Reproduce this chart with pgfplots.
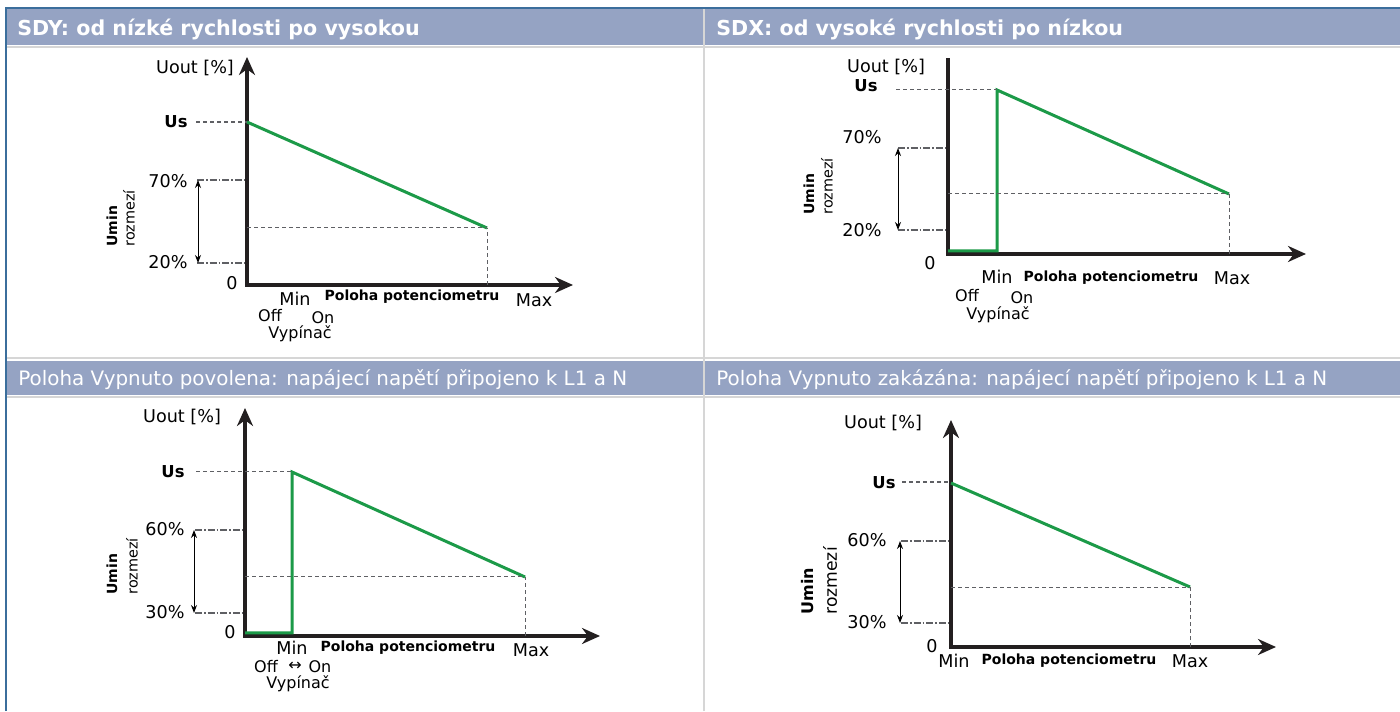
\documentclass[border=0pt]{standalone}
\usepackage{fontspec}
\setmainfont{DejaVu Sans}
\usepackage{pgfplots}
\pgfplotsset{compat=1.18}
\usetikzlibrary{arrows.meta}
\definecolor{hdr}{HTML}{95A3C3}
\definecolor{topblue}{HTML}{3B6E9C}
\definecolor{sep}{HTML}{D6D6D6}
\definecolor{grn}{HTML}{1C9A48}
\definecolor{axblack}{HTML}{231F20}
\definecolor{guide}{HTML}{5F6064}
\newcommand\hdrb{\fontsize{10.3}{12}\selectfont\bfseries}
\newcommand\hdrr{\fontsize{9.95}{12}\selectfont}
\newcommand\lbl{\fontsize{8.8}{10}\selectfont}
\newcommand\sml{\fontsize{8}{9}\selectfont}
\newcommand\tny{\fontsize{7}{8}\selectfont}
\newcommand\rzm{\fontsize{7.2}{8}\selectfont}
\newcommand\usf{\fontsize{8.2}{9}\selectfont\bfseries}
\pgfplotsset{
  panel/.style={scale only axis, anchor=south west, clip=false,
    axis lines=left, xtick=\empty, ytick=\empty,
    axis line style={line width=2pt, draw=axblack, line cap=rect},
    x axis line style={-{Stealth[length=9pt,width=8pt]}},
    y axis line style={-{Stealth[length=9pt,width=8pt]}},
    every axis plot/.append style={no markers, forget plot},
    nodes={inner sep=0pt}},
  grline/.style={draw=grn, line width=1.5pt, line join=miter},
  usdot/.style={draw=guide, line width=1.4pt, dash pattern=on 2pt off 1.5pt},
  thindash/.style={draw=guide, line width=0.5pt, dash pattern=on 2pt off 1.5pt},
  dashdot/.style={draw=guide, line width=0.75pt, dash pattern=on 3.5pt off 1pt on 0.8pt off 1pt},
  dblarrow/.style={draw=black, line width=0.5pt, {Stealth[length=4pt,width=3pt]}-{Stealth[length=4pt,width=3pt]}},
}
\begin{document}
\begin{tikzpicture}[x=0.5pt,y=0.5pt]
\path[use as bounding box, fill=white] (0,0) rectangle (1400,711);
% header bars
\fill[hdr] (7,666) rectangle (703,702);
\fill[hdr] (705,666) rectangle (1400,702);
\fill[hdr] (7,316) rectangle (703,350);
\fill[hdr] (705,316) rectangle (1400,350);
\draw[sep, line width=1pt] (704,0) -- (704,702);
\draw[sep, line width=1pt] (7,664) -- (1400,664);
\draw[sep, line width=1pt] (7,352.5) -- (1400,352.5);
\draw[sep, line width=1pt] (7,313.5) -- (1400,313.5);
\draw[topblue, line width=1pt] (5,703) -- (1400,703);
\draw[topblue, line width=1pt] (6,0) -- (6,703);
\node[anchor=base west, text=white, font=\hdrb, inner sep=0pt] at (17,675) {SDY: od nízké rychlosti po vysokou};
\node[anchor=base west, text=white, font=\hdrb, inner sep=0pt] at (716,675) {SDX: od vysoké rychlosti po nízkou};
\node[anchor=base west, text=white, font=\hdrr, inner sep=0pt] at (18,325) {Poloha Vypnuto povolena: napájecí napětí připojeno k L1 a N};
\node[anchor=base west, text=white, font=\hdrr, inner sep=0pt] at (716,325) {Poloha Vypnuto zakázána: napájecí napětí připojeno k L1 a N};

% ---------- Panel 1 ----------
\begin{axis}[panel, at={(247,426)}, width=163pt, height=114pt,
  xmin=0, xmax=326, ymin=0, ymax=228]
\addplot[grline] coordinates {(0,163) (240,57)};
\addplot[usdot] coordinates {(-51,163) (0,163)};
\addplot[dashdot] coordinates {(-50,105) (0,105)};
\addplot[dashdot] coordinates {(-50,22) (0,22)};
\addplot[dblarrow] coordinates {(-49,22) (-49,105)};
\addplot[thindash] coordinates {(0,57) (240,57)};
\addplot[thindash] coordinates {(240,0) (240,57)};
\node[font=\lbl] at (axis cs:-52,217) {Uout [\%]};
\node[font=\usf] at (axis cs:-71,163) {Us};
\node[font=\lbl] at (axis cs:-79,104) {70\%};
\node[font=\lbl] at (axis cs:-79,23) {20\%};
\node[font=\lbl] at (axis cs:-15,2) {0};
\node[font=\lbl] at (axis cs:48,-14) {Min};
\node[font=\tny\bfseries] at (axis cs:165,-12) {Poloha potenciometru};
\node[font=\lbl] at (axis cs:287,-15) {Max};
\node[font=\sml] at (axis cs:23,-31) {Off};
\node[font=\sml] at (axis cs:76,-33) {On};
\node[font=\sml] at (axis cs:53,-49) {Vypínač};
\node[font=\tny\bfseries, rotate=90, anchor=west] at (axis cs:-135,38) {Umin};
\node[font=\rzm, rotate=90, anchor=west] at (axis cs:-118,38) {rozmezí};
\end{axis}

% ---------- Panel 2 ----------
\begin{axis}[panel, at={(948,457)}, width=179pt, height=97pt,
  xmin=0, xmax=358, ymin=0, ymax=194, y axis line style={-}]
\addplot[grline] coordinates {(0,3) (49,3) (49,164) (281,60)};
\addplot[thindash] coordinates {(-52,164) (49,164)};
\addplot[dashdot] coordinates {(-50,106) (0,106)};
\addplot[dashdot] coordinates {(-50,24) (0,24)};
\addplot[dblarrow] coordinates {(-50,24) (-50,106)};
\addplot[thindash] coordinates {(0,60) (281,60)};
\addplot[thindash] coordinates {(281,0) (281,60)};
\node[font=\lbl] at (axis cs:-62,187) {Uout [\%]};
\node[font=\usf] at (axis cs:-82,168) {Us};
\node[font=\lbl] at (axis cs:-86,117) {70\%};
\node[font=\lbl] at (axis cs:-86,24) {20\%};
\node[font=\lbl] at (axis cs:-18,-9) {0};
\node[font=\lbl] at (axis cs:49,-23) {Min};
\node[font=\tny\bfseries] at (axis cs:163,-24) {Poloha potenciometru};
\node[font=\lbl] at (axis cs:284,-24) {Max};
\node[font=\sml] at (axis cs:19,-42) {Off};
\node[font=\sml] at (axis cs:74,-44) {On};
\node[font=\sml] at (axis cs:50,-61) {Vypínač};
\node[font=\tny\bfseries, rotate=90, anchor=west] at (axis cs:-139,39) {Umin};
\node[font=\rzm, rotate=90, anchor=west] at (axis cs:-121,39) {rozmezí};
\end{axis}

% ---------- Panel 3 ----------
\begin{axis}[panel, at={(245,75)}, width=177.5pt, height=114pt,
  xmin=0, xmax=355, ymin=0, ymax=228]
\addplot[grline] coordinates {(0,3) (47,3) (47,164) (280,59)};
\addplot[thindash] coordinates {(-49,164) (47,164)};
\addplot[dashdot] coordinates {(-50,106) (0,106)};
\addplot[dashdot] coordinates {(-50,23) (0,23)};
\addplot[dblarrow] coordinates {(-51,23) (-51,106)};
\addplot[thindash] coordinates {(0,59) (280,59)};
\addplot[thindash] coordinates {(280,0) (280,59)};
\node[font=\lbl] at (axis cs:-63,219) {Uout [\%]};
\node[font=\usf] at (axis cs:-72,164) {Us};
\node[font=\lbl] at (axis cs:-80,107) {60\%};
\node[font=\lbl] at (axis cs:-80,24) {30\%};
\node[font=\lbl] at (axis cs:-15,4) {0};
\node[font=\lbl] at (axis cs:47,-12) {Min};
\node[font=\tny\bfseries] at (axis cs:163,-12) {Poloha potenciometru};
\node[font=\lbl] at (axis cs:286,-14) {Max};
\node[font=\sml] at (axis cs:21,-31) {Off};
\node[font=\sml] at (axis cs:50,-30) {↔};
\node[font=\sml] at (axis cs:75,-31) {On};
\node[font=\sml] at (axis cs:53,-48) {Vypínač};
\node[font=\tny\bfseries, rotate=90, anchor=west] at (axis cs:-133,41) {Umin};
\node[font=\rzm, rotate=90, anchor=west] at (axis cs:-113,41) {rozmezí};
\end{axis}

% ---------- Panel 4 ----------
\begin{axis}[panel, at={(951,64)}, width=162.5pt, height=113.5pt,
  xmin=0, xmax=325, ymin=0, ymax=227]
\addplot[grline] coordinates {(0,164) (239,60)};
\addplot[usdot] coordinates {(-49,165) (0,165)};
\addplot[dashdot] coordinates {(-50,106) (0,106)};
\addplot[dashdot] coordinates {(-50,24) (0,24)};
\addplot[dblarrow] coordinates {(-51,24) (-51,106)};
\addplot[thindash] coordinates {(0,60) (239,60)};
\addplot[thindash] coordinates {(239,0) (239,60)};
\node[font=\lbl] at (axis cs:-68,224) {Uout [\%]};
\node[font=\usf] at (axis cs:-67,164) {Us};
\node[font=\lbl] at (axis cs:-84,107) {60\%};
\node[font=\lbl] at (axis cs:-84,25) {30\%};
\node[font=\lbl] at (axis cs:-19,1) {0};
\node[font=\lbl] at (axis cs:3,-14) {Min};
\node[font=\tny\bfseries] at (axis cs:118,-14) {Poloha potenciometru};
\node[font=\lbl] at (axis cs:239,-14) {Max};
\node[font=\fontsize{8}{9}\selectfont\bfseries, rotate=90, anchor=west] at (axis cs:-143,32) {Umin};
\node[font=\fontsize{8.6}{9}\selectfont, rotate=90, anchor=west] at (axis cs:-121,32) {rozmezí};
\end{axis}
\end{tikzpicture}
\end{document}
